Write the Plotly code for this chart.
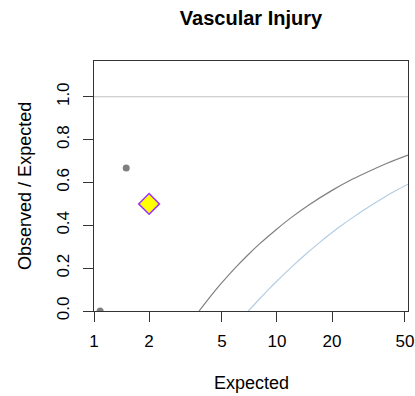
import plotly.graph_objects as go

# Observed / expected ratios for each unit
unit_expected = [1.08, 1.5]
unit_ratio = [0.0, 0.667]

# Overall (pooled) ratio
overall_expected = [2.0]
overall_ratio = [0.5]

# Lower control limits (95% and 99.8%)
limit95_expected = [3.75, 4.5, 5, 6, 7, 8, 10, 12, 15, 20, 25, 30, 40, 52]
limit95_ratio = [0.0, 0.086, 0.132, 0.207, 0.265, 0.312, 0.383, 0.437, 0.496,
                 0.563, 0.609, 0.642, 0.690, 0.728]

limit998_expected = [6.97, 8, 9, 10, 12, 14, 17, 20, 22, 26, 30, 35, 40, 46, 52]
limit998_ratio = [0.0, 0.055, 0.101, 0.140, 0.205, 0.257, 0.318, 0.366, 0.393,
                  0.437, 0.473, 0.509, 0.539, 0.568, 0.592]

TARGET = 1.0
x_ticks = [1, 2, 5, 10, 20, 50]
y_ticks = [0.0, 0.2, 0.4, 0.6, 0.8, 1.0]

FONT = "Liberation Sans, Arial, sans-serif"

fig = go.Figure()

fig.add_hline(y=TARGET, line=dict(color="#c0c0c0", width=1))

fig.add_trace(go.Scatter(
    x=limit95_expected, y=limit95_ratio, mode="lines",
    line=dict(color="#808080", width=1.2, shape="spline"),
    hoverinfo="skip", showlegend=False))

fig.add_trace(go.Scatter(
    x=limit998_expected, y=limit998_ratio, mode="lines",
    line=dict(color="#b3cde3", width=1.2, shape="spline"),
    hoverinfo="skip", showlegend=False))

fig.add_trace(go.Scatter(
    x=unit_expected, y=unit_ratio, mode="markers",
    marker=dict(color="#7f7f7f", size=7, symbol="circle"),
    showlegend=False))

fig.add_trace(go.Scatter(
    x=overall_expected, y=overall_ratio, mode="markers",
    marker=dict(color="#ffff00", size=16, symbol="diamond",
                line=dict(color="#9b30ff", width=1.5)),
    showlegend=False))

axis_common = dict(
    showline=True, linecolor="#333333", linewidth=1, mirror=True,
    ticks="outside", ticklen=10, tickcolor="#333333", tickwidth=1,
    showgrid=False, zeroline=False, automargin=False,
    tickfont=dict(family=FONT, size=17, color="black"),
)

fig.update_xaxes(
    type="log", range=[0, 1.716],
    tickvals=x_ticks, ticktext=[str(v) for v in x_ticks],
    ticklabelstandoff=5,
    **axis_common)

fig.update_yaxes(
    range=[0, 1.167],
    tickvals=y_ticks, ticktext=[f"{v:.1f}" for v in y_ticks],
    tickangle=-90, ticklabelstandoff=7,
    **axis_common)

title_font = dict(family=FONT, size=18, color="black")
fig.add_annotation(text="Expected", xref="paper", yref="paper",
                   x=0.5, y=-0.288, xanchor="center", yanchor="middle",
                   showarrow=False, font=title_font)
fig.add_annotation(text="Observed / Expected", xref="paper", yref="paper",
                   x=-0.22, y=0.5, xanchor="center", yanchor="middle",
                   textangle=-90, showarrow=False, font=title_font)

fig.update_layout(
    width=415, height=396,
    margin=dict(l=94, r=7, t=61, b=85),
    paper_bgcolor="white", plot_bgcolor="white",
    title=dict(text="<b>Vascular Injury</b>", xref="paper", x=0.5,
               xanchor="center", y=0.955, yanchor="middle",
               font=dict(family=FONT, size=20, color="black")),
)

fig.write_html("out.html")
